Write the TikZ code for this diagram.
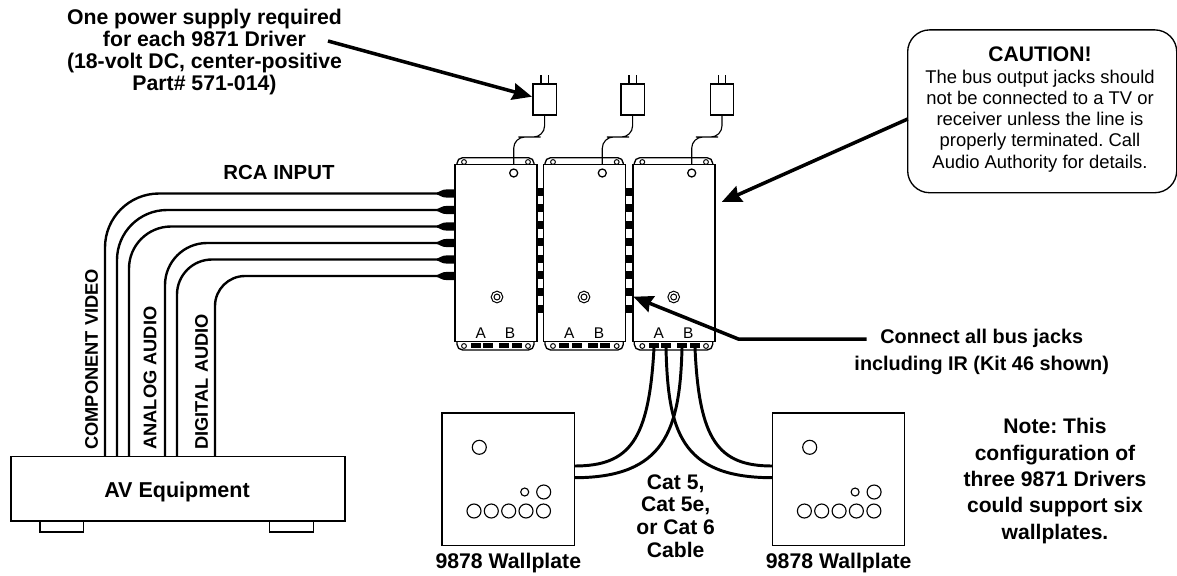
\documentclass[tikz,border=0pt]{standalone}
\usepackage{fontspec}
\setmainfont{Liberation Sans}
\frenchspacing
\usetikzlibrary{shapes,arrows.meta,positioning}
\tikzset{
  part/.style={shape=rectangle,draw=black,line width=0.95pt,fill=white,inner sep=0pt,outer sep=0pt},
  driver/.style={part,minimum width=2.05cm,minimum height=4.43cm},
  wallplate/.style={part,minimum width=3.31cm,minimum height=3.31cm},
  plug/.style={part,minimum width=0.58cm,minimum height=0.775cm},
  foot/.style={part,minimum width=1.09cm,minimum height=0.28cm},
  hole/.style={shape=circle,draw=black,line width=0.8pt,fill=white,inner sep=0pt,minimum size=0.35cm},
  smallhole/.style={hole,minimum size=0.2cm},
  tabhole/.style={hole,line width=0.7pt,minimum size=0.12cm},
  topjack/.style={hole,line width=0.9pt,minimum size=0.2cm},
  grommet/.style={shape=circle,draw=black,line width=0.8pt,double,double distance=1pt,inner sep=0pt,minimum size=0.22cm},
  outjack/.style={shape=rectangle,fill=black,inner sep=0pt,outer sep=0pt,minimum width=0.25cm,minimum height=0.125cm},
  tab/.style={draw=black,line width=0.95pt,rounded corners=0.14cm},
  prong/.style={draw=black,line width=0.8pt},
  cord/.style={draw=black,line width=0.8pt,rounded corners=0.28cm},
  buslink/.style={draw=black,line width=4.8pt,dash pattern=on 5.7pt off 6.18pt},
  rcawire/.style={draw=black,line width=1.7pt},
  catwire/.style={draw=black,line width=2.1pt},
  pointer/.style={draw=black,line width=2.5pt,-{Stealth[length=0.49cm,width=0.42cm,inset=0.05cm]}},
  rcaplug/.pic={\fill[black] (0,-4.2) -- (-7,-4.2) .. controls (-11,-4.2) .. (-18,-0.9) -- (-18,0.9) .. controls (-11,4.2) .. (-7,4.2) -- (0,4.2) -- cycle;},
  boldlabel/.style={align=center,inner sep=0pt,font=\bfseries\fontsize{15.1}{15.6}\selectfont},
  rcalabel/.style={boldlabel,font=\bfseries\fontsize{14.5}{15.6}\selectfont},
  connectlabel/.style={boldlabel,font=\bfseries\fontsize{14.1}{19.2}\selectfont},
  notelabel/.style={boldlabel,font=\bfseries\fontsize{15}{18.7}\selectfont},
  catlabel/.style={boldlabel,font=\bfseries\fontsize{15}{16.1}\selectfont},
  sidelabel/.style={anchor=west,rotate=90,inner sep=0pt,font=\bfseries\fontsize{13}{15}\selectfont},
  jacklabel/.style={inner sep=0pt,font=\fontsize{11}{13}\selectfont}
}

\begin{document}
\begin{tikzpicture}[x=0.025cm,y=-0.025cm]
\useasboundingbox (0,0) rectangle (1177,575);

%draw AV equipment with feet
\node [foot] at (61.7,526.5) (footl) {};
\node [foot] at (291.5,526.5) (footr) {};
\node [part,minimum width=8.35cm,minimum height=1.61cm] at (178,488.8) (av) {};
\node [boldlabel,font=\bfseries\fontsize{15.3}{18}\selectfont] at (177,491.7) (avtext) {AV Equipment};

%draw tabs behind the drivers
\draw [tab] (457,164) -- (457,157.7) -- (534,157.7) -- (534,164);
\draw [tab] (545,164) -- (545,157.7) -- (623.3,157.7) -- (623.3,164);
\draw [tab] (634.3,164) -- (634.3,157.7) -- (712.7,157.7) -- (712.7,164);
\draw [tab] (457,341) -- (457,350) -- (534,350) -- (534,341);
\draw [tab] (545,341) -- (545,350) -- (623.3,350) -- (623.3,341);
\draw [tab] (634.3,341) -- (634.3,350) -- (712.7,350) -- (712.7,341);

%draw bus links between drivers
\coordinate (bus1top) at (540.3,187.7);
\coordinate (bus1bot) at (540.3,312.8);
\coordinate (bus2top) at (629.2,187.7);
\coordinate (bus2bot) at (629.2,312.8);
\draw [buslink] (bus1top) -- (bus1bot);
\draw [buslink] (bus2top) -- (bus2bot);

%draw drivers
\node [driver] at (496,253) (driver1) {};
\node [driver] at (584.5,253) (driver2) {};
\node [driver] at (674,253) (driver3) {};

%holes in the tabs
\node [tabhole] at (464,162) (tab1a) {};
\node [tabhole] at (528,162) (tab1b) {};
\node [tabhole] at (553,162) (tab2a) {};
\node [tabhole] at (616.7,162) (tab2b) {};
\node [tabhole] at (642.3,162) (tab3a) {};
\node [tabhole] at (706,162) (tab3b) {};
\node [tabhole] at (464,346) (tab1c) {};
\node [tabhole] at (528,346) (tab1d) {};
\node [tabhole] at (553,346) (tab2c) {};
\node [tabhole] at (616.7,346) (tab2d) {};
\node [tabhole] at (642.3,346) (tab3c) {};
\node [tabhole] at (706,346) (tab3d) {};

%power jacks and grommets on the drivers
\node [topjack] at (513.7,173) (power1) {};
\node [topjack] at (602.3,173) (power2) {};
\node [topjack] at (691.7,173) (power3) {};
\node [grommet] at (497,297) (grom1) {};
\node [grommet] at (584,297) (grom2) {};
\node [grommet] at (673.7,297) (grom3) {};

%output jacks with labels
\node [jacklabel] at (480.7,332.7) (a1) {A};
\node [jacklabel] at (510,332.7) (b1) {B};
\node [jacklabel] at (569.3,332.7) (a2) {A};
\node [jacklabel] at (599,332.7) (b2) {B};
\node [jacklabel] at (658.7,332.7) (a3) {A};
\node [jacklabel] at (688.3,332.7) (b3) {B};
\node [outjack] at (476,345.3) (jack11) {};
\node [outjack] at (487.7,345.3) (jack12) {};
\node [outjack] at (504,345.3) (jack13) {};
\node [outjack] at (517,345.3) (jack14) {};
\node [outjack] at (564,345.3) (jack21) {};
\node [outjack] at (577,345.3) (jack22) {};
\node [outjack] at (593.3,345.3) (jack23) {};
\node [outjack] at (605,345.3) (jack24) {};
\node [outjack] at (654,345.3) (jack31) {};
\node [outjack] at (666,345.3) (jack32) {};
\node [outjack] at (682,345.3) (jack33) {};
\node [outjack] at (695,345.3) (jack34) {};

%draw power supplies
\node [plug] at (544.6,99.5) (plug1) {};
\node [plug] at (632.6,99.5) (plug2) {};
\node [plug] at (722,99.5) (plug3) {};
\draw [prong] ([xshift=-0.09cm]plug1.north) -- ++(0,-9);
\draw [prong] ([xshift=0.09cm]plug1.north) -- ++(0,-9);
\draw [prong] ([xshift=-0.09cm]plug2.north) -- ++(0,-9);
\draw [prong] ([xshift=0.09cm]plug2.north) -- ++(0,-9);
\draw [prong] ([xshift=-0.09cm]plug3.north) -- ++(0,-9);
\draw [prong] ([xshift=0.09cm]plug3.north) -- ++(0,-9);

%cords from supplies to drivers
\coordinate (cord1) at (513.7,164.3);
\coordinate (cord2) at (602.3,164.3);
\coordinate (cord3) at (691.7,164.3);
\draw [cord] (plug1.south) |- (529.5,137) -| (cord1);
\draw [cord] (plug2.south) |- (618,137) -| (cord2);
\draw [cord] (plug3.south) |- (707,137) -| (cord3);

%rca wires, right angle with a big radius
\coordinate (rca1) at (455,193.5);
\coordinate (rca2) at (455,210);
\coordinate (rca3) at (455,226.5);
\coordinate (rca4) at (455,243);
\coordinate (rca5) at (455,259.5);
\coordinate (rca6) at (455,276);
\coordinate (av1) at (105,456.7);
\coordinate (av2) at (117,456.7);
\coordinate (av3) at (129,456.7);
\coordinate (av4) at (165,456.7);
\coordinate (av5) at (177,456.7);
\coordinate (av6) at (215,456.7);
\draw [rcawire,rounded corners=1.35cm] (rca1) -| (av1);
\draw [rcawire,rounded corners=1.25cm] (rca2) -| (av2);
\draw [rcawire,rounded corners=1.05cm] (rca3) -| (av3);
\draw [rcawire,rounded corners=1.05cm] (rca4) -| (av4);
\draw [rcawire,rounded corners=0.875cm] (rca5) -| (av5);
\draw [rcawire,rounded corners=0.75cm] (rca6) -| (av6);
\pic at (rca1) {rcaplug};
\pic at (rca2) {rcaplug};
\pic at (rca3) {rcaplug};
\pic at (rca4) {rcaplug};
\pic at (rca5) {rcaplug};
\pic at (rca6) {rcaplug};

%draw wallplates
\node [wallplate] at (508.2,479.2) (platel) {};
\node [wallplate] at (838.5,479.2) (plater) {};
\node [hole] at (479.3,447.3) (ledl) {};
\node [smallhole] at (524.7,492) (irl) {};
\node [hole] at (543.7,492) (l1) {};
\node [hole] at (474,511) (l2) {};
\node [hole] at (491.3,511) (l3) {};
\node [hole] at (508.7,511) (l4) {};
\node [hole] at (526,511) (l5) {};
\node [hole] at (543.5,511) (l6) {};
\node [hole] at (809.7,447.3) (ledr) {};
\node [smallhole] at (855.1,492) (irr) {};
\node [hole] at (874.1,492) (r1) {};
\node [hole] at (804.4,511) (r2) {};
\node [hole] at (821.7,511) (r3) {};
\node [hole] at (839.1,511) (r4) {};
\node [hole] at (856.4,511) (r5) {};
\node [hole] at (873.9,511) (r6) {};

%cat cables between driver and wallplates
\coordinate (platel1) at (574.3,466);
\coordinate (platel2) at (574.3,477.7);
\coordinate (plater1) at (772.3,466);
\coordinate (plater2) at (772.3,477.7);
\draw [catwire] (jack31.south) .. controls (649,440) and (630,466) .. (platel1);
\draw [catwire] (jack33.south) .. controls (680,430) and (665,477.7) .. (platel2);
\draw [catwire] (jack32.south) .. controls (668,430) and (680,477.7) .. (plater2);
\draw [catwire] (jack34.south) .. controls (699,440) and (718,466) .. (plater1);

%text labels
\node [boldlabel] at (204.5,52) (supply) {One power supply required\\for each 9871 Driver\\(18-volt DC, center-positive\\Part\# 571-014)};
\node [rcalabel] at (279,172) (rca) {RCA INPUT};
\node [sidelabel] at (91.7,450) (video) {COMPONENT VIDEO};
\node [sidelabel] at (150,450) (analog) {ANALOG AUDIO};
\node [sidelabel] at (201.7,450) (digital) {DIGITAL AUDIO};
\node [connectlabel] at (981.7,351.5) (connect) {Connect all bus jacks\\including IR (Kit 46 shown)};
\node [notelabel] at (1055,481) (note) {Note: This\\configuration of\\three 9871 Drivers\\could support six\\wallplates.};
\node [catlabel] at (675.7,516) (cat) {Cat 5,\\Cat 5e,\\or Cat 6\\Cable};
\node [boldlabel] at (508.3,563) (walll) {9878 Wallplate};
\node [boldlabel] at (838.7,563) (wallr) {9878 Wallplate};

%caution box
\node [part,rounded corners=0.55cm,minimum width=6.725cm,minimum height=4.07cm] at (1042.2,111.3) (caution) {};
\node [align=center,inner sep=0pt,font=\fontsize{13.1}{15.15}\selectfont] at (1040,109.5) (cautiontext) {{\bfseries\fontsize{15}{15.15}\selectfont CAUTION!}\\The bus output jacks should\\not be connected to a TV or\\receiver unless the line is\\properly terminated. Call\\Audio Authority for details.};

%thick arrows
\coordinate (supplytail) at (328,41);
\coordinate (supplytip) at (532,96.7);
\coordinate (cautiontail) at (907.7,119);
\coordinate (cautiontip) at (721.7,202);
\coordinate (connecttail) at (866.7,339);
\coordinate (connectbend) at (738.3,339);
\coordinate (connecttip) at (633.3,296.7);
\draw [pointer] (supplytail) -- (supplytip);
\draw [pointer] (cautiontail) -- (cautiontip);
\draw [pointer] (connecttail) -- (connectbend) -- (connecttip);

\end{tikzpicture}
\end{document}
